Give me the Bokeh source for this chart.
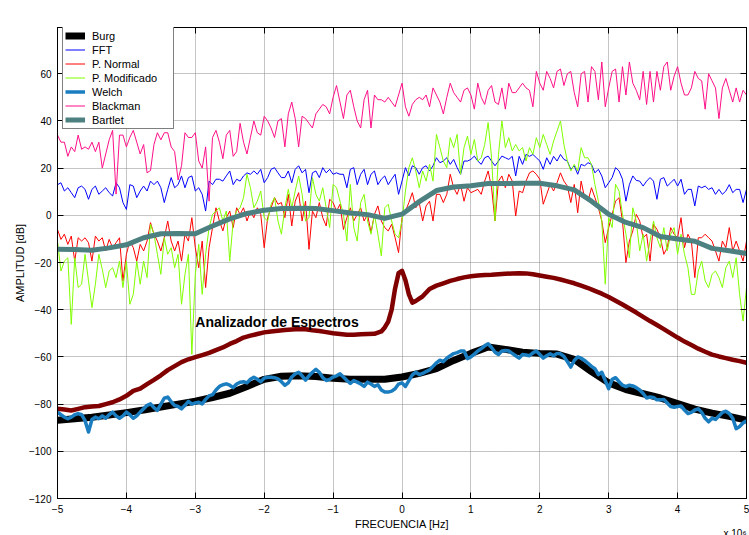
import numpy as np
from bokeh.plotting import figure
from bokeh.models import Range1d, FixedTicker, LinearAxis, Label, Legend, LegendItem, Title
from bokeh.embed import file_html
from bokeh.resources import INLINE

# ---------------------------------------------------------------- data
# frequency axis in units of 1e6 Hz
freq = np.round(np.linspace(-5, 5, 201), 2)        # fine grid (0.05)
freq_coarse = np.round(np.linspace(-5, 5, 41), 2)  # smooth estimators (0.25)

x_ticks = [-5, -4, -3, -2, -1, 0, 1, 2, 3, 4, 5]
y_ticks = [-120, -100, -80, -60, -40, -20, 0, 20, 40, 60]

fft_db = [
    13, 13.8, 10.3, 11.7, 9.6, 7.5, 11.7, 12.4, 11, 6.8, 11, 12.4, 8.9, 10.3, 11.7, 9.6, 8.2, 13.8, 11.7, 5.4,
    2.5, 13, 12.4, 7.5, 10.3, 12.4, 10.3, 14.5, 13, 14.5, 11.7, 5.4, 11, 16, 11.7, 13, 16.7, 11.7, 16, 16.7,
    10.3, 11.7, 8.9, 1.8, 14.5, 13, 15.3, 15.3, 14.5, 16.7, 18.8, 13, 15.3, 14.5, 16.7, 18, 17.4, 18.8, 17.4, 19.5,
    13.8, 16, 19.5, 20.2, 18, 16, 16, 18.8, 13.8, 19.5, 21, 18, 19.5, 9.6, 18, 18.8, 16, 20.2, 18, 19.5,
    17.4, 18, 17.4, 17.4, 11.7, 19.5, 20.2, 13, 17.4, 19.5, 13, 17.4, 18.8, 13, 15.3, 16.7, 13, 15.3, 17.4, 8.9,
    14.5, 20.2, 16.7, 21, 20.2, 17.4, 20.2, 21, 18.8, 21, 24.4, 22.3, 23, 24.4, 21.6, 23.7, 20.2, 17.4, 23, 23,
    23.7, 25.1, 23, 21.6, 24.4, 25.1, 23, 21, 23, 25.1, 24.4, 23.7, 25, 16.7, 25, 21.6, 25.8, 25, 25.8, 24.4,
    23, 19.5, 24.4, 21.6, 25, 23, 25.8, 23.7, 23, 19.5, 21, 17.4, 21.6, 21, 22.3, 21.6, 18, 19.5, 16.7, 11.7,
    13.8, 16, 20.2, 18.8, 15.3, 6, 13, 16.7, 14.8, 14.5, 12.4, 14.5, 16, 14.5, 6.8, 15.3, 16, 12.4, 13.8, 15.3,
    12.4, 15.3, 8.9, 11, 11, 4, 12.4, 11.7, 12.4, 11, 11.7, 8.9, 11, 8.9, 10.3, 13, 9.6, 11, 11, 5.4,
    11,
]

p_normal_db = [
    -6, -10.2, -8, -12.3, -8.8, -19.4, -9.5, -10.9, -9.5, -11.6, -19.4, -8.8, -10.9, -9.5, -15.1, -10.2, -13.7, -11.6, -9.5, -27.8,
    -16.5, -10.9, -13.7, -19.4, -12.3, -15.1, -10.9, -3.1, -8, -10.9, -15.1, -9.5, -2.4, -10.9, -15.1, -10.9, -19.4, -8, -10.9, -1,
    -13.7, -22.2, -10.9, -30.6, -13.7, -5.2, 3.2, -2.4, -6.6, -1, 1.8, -5.2, 3.2, 0.4, 3.2, -2.4, 1.8, -1, 3.2, 0.4,
    -13.7, -1, 3.2, 7.5, 4.7, 5.4, -1, 8.9, -4.5, 6, 9.6, -2.4, 6, -14.4, 1.8, -1, 5.4, -1, -4.5, 6.8,
    5.4, 1.8, 4.7, -6, -1, 3.2, -2.4, 0.4, 3.2, -2.4, 0.4, -7.3, 0.4, 4, -2.4, -5.2, -6.6, -3.8, -9.5, -15.8,
    -1, 1.8, 5.4, 9.6, 3.2, 5.4, -2.4, 4, 6, -2.4, 8.9, 8.9, 5.4, 8.9, 17.4, 11.7, 8.9, 13.1, 6, 11.7,
    9.6, 10.3, 11, 8.9, 14.5, 18.8, 11.7, -2.4, 14.5, 16.7, 11.7, 17.4, 14.5, -0.3, 10.3, 9.6, 14.5, 18, 18.8, 17.4,
    15.3, 4.7, 8.9, 13.1, 10.3, 13.8, 18, 14.5, 12.4, 5.4, 13.1, 1.1, 14.5, 7.5, 6, 11.7, 7.5, 3.2, -2.4, -11.6,
    -5.2, 0.4, 6, 7.5, -2.4, -20, -10.9, -6.6, 0.4, -2.4, -9.5, -8, -19.4, -3.8, -5.9, -9.5, -16.5, -13.7, -5.2, -8,
    -9.5, -1, -13.7, -8, -10.9, -26.4, -9.5, -9.5, -8, -9.5, -10.9, -15.1, -19.4, -10.9, -13.7, -5.2, -15.1, -10.9, -15.1, -19.4,
    -10.9,
]

p_modificado_db = [
    -11, -23.6, -19.4, -18, -46.2, -18, -30.6, -29.2, -16.5, -27.8, -39.1, -29.2, -16.5, -22.9, -30.6, -23.6, -22.2, -26.4, -19.4, -30.6,
    -19.4, -37.7, -33.5, -19.4, -29.2, -19.4, -26.4, -3.8, -8, -16.5, -25, -9.5, -16.5, -13.7, -22.2, -16.5, -37.7, -25, -16.5, -58.9,
    -25, -12.3, -33.5, -16.5, -5.2, 0.4, 1.8, 3.2, -2.4, 1.8, -19.4, -2.4, 1.8, 3.2, 7.5, 17.4, 11.7, 3.2, 6, 10.3,
    -1, -2.4, 4.7, 7.5, -2.4, -8, 3.2, 11, 3.2, 10.3, 16.7, 8.9, -2.4, -1, 16, 8.9, 6, 11.7, 3.2, -5.2,
    13.1, 11.7, 6, 0.4, -10.9, 13.1, -5.2, -10.9, 5.4, 8.9, -2.4, -8, 0.4, -8, -17.2, 3.2, 4.7, -2.4, -8, -9.5,
    -2.4, 10.3, 20.2, 24.4, 18.8, 11.7, 18.8, 14.5, 21.6, 14.5, 34.3, 28.7, 23, 20.2, 32.9, 28.7, 34.3, 17.4, 28.7, 33.6,
    25.8, 32.2, 23, 24.4, 30, 39.3, 24.4, -2.4, 25.8, 40, 28.7, 32.9, 27.3, 30, 27.3, 28.7, 23, 28.7, 25.8, 32.9,
    28.7, 34.3, 30, 25.8, 31.5, 35.7, 40, 30, 23, 18.8, 21.6, 18.8, 28.7, 24.4, 24.4, 21.6, 13.1, 6, -2.4, -29.2,
    -1, -5.2, 13.1, 10.3, 0.4, -8, -18, 3.2, -2.4, -15.1, -8, -19.4, -10.9, -2.4, -9.5, -13.7, -5.2, -15.1, -8, -5.2,
    -16.5, -8, -16.5, -22.2, -33.5, -33.5, -23.6, -19.4, -27.8, -30.6, -25, -23.6, -26.4, -30.6, -22.2, -19.4, -26.4, -18, -33.5, -44.8,
    -30.6,
]

welch_db = [
    -83.4, -84.5, -85.5, -86.2, -85.5, -84.5, -84, -84.5, -87, -91.8, -86.5, -85.5, -86.2, -85, -86, -84.5, -83.4, -85, -86, -85,
    -83.4, -84.5, -86, -85, -83.4, -82, -80.5, -79.9, -81.5, -82.7, -80, -77.5, -77, -79, -80.6, -81, -82, -80.5, -78.8, -80,
    -79.5, -79.2, -79.9, -78, -76.5, -76, -74, -72.5, -71.8, -71.4, -72, -73, -71.5, -70.7, -70.5, -71, -69.5, -68.6, -69.5, -70.5,
    -69, -68.6, -68.6, -68.8, -69.3, -70.5, -72, -71, -68.5, -67.2, -66.5, -68, -69.8, -68, -66.5, -65.3, -66.5, -68.8, -70, -69.5,
    -68.5, -68, -67.2, -68.5, -70, -71.2, -70, -70.7, -71.4, -72.5, -70.7, -71.5, -72.5, -71.8, -74, -74.9, -74.9, -74.5, -73.5, -71.5,
    -71, -72.5, -70, -67.6, -66.5, -67.5, -67, -66.2, -65.5, -64, -62.5, -61.4, -62, -60.5, -59.5, -58.6, -58.2, -57.5, -57.5, -60.7,
    -60, -58.8, -57.5, -56.5, -55.3, -54.4, -56, -58, -59, -57.5, -57.3, -57.5, -58.5, -59.5, -60.5, -59, -59.2, -59.5, -58.3, -57.5,
    -59, -60.5, -59.5, -58.7, -59.5, -58.5, -58.7, -59.8, -62, -64.3, -61.5, -60, -60.5, -61.5, -62.7, -64, -65, -67.5, -66.5, -70,
    -73.5, -69.5, -68.8, -70.5, -72, -72.6, -72, -72.3, -73, -74, -75.5, -77.4, -77, -77.2, -78.2, -78.2, -78, -79.5, -81, -81.3,
    -81, -80.8, -82.5, -84, -83.5, -82.5, -82, -83.5, -86, -87.5, -86, -86.5, -85, -83.5, -83, -84, -86, -90.4, -89.5, -88,
    -87,
]

blackman_db = [
    34, 31, 31, 25, 29, 27, 34, 28, 29, 28, 31, 27, 31, 20, 26, 32, 36, 9, 34, 34,
    29, 33, 36, 31, 26, 30, 18, 19, 30, 35, 32, 35, 35, 29, 27, 15, 21, 35, 33, 33,
    35, 23, 20, 29, 6, 33, 36, 31, 24, 34, 36, 25, 27, 39, 31, 26, 33, 40, 35, 34,
    42, 40, 37, 33, 40, 41, 29, 43, 48, 41, 29, 42, 41, 39, 37, 43, 45, 47, 46, 43,
    50, 55, 48, 41, 51, 53, 46, 40, 37, 49, 53, 37, 51, 49, 49, 48, 50, 48, 46, 51,
    56, 46, 42, 47, 49, 50, 49, 51, 46, 54, 51, 48, 43, 50, 56, 52, 50, 48, 53, 54,
    51, 45, 56, 50, 47, 53, 55, 48, 47, 54, 45, 56, 52, 52, 54, 56, 54, 53, 46, 61,
    56, 53, 61, 58, 54, 61, 62, 55, 60, 61, 52, 46, 60, 61, 48, 63, 61, 49, 65, 46,
    54, 61, 62, 48, 63, 51, 65, 56, 53, 49, 61, 47, 61, 48, 61, 53, 63, 65, 53, 59,
    63, 56, 51, 51, 54, 61, 58, 57, 45, 60, 57, 54, 41, 54, 58, 53, 48, 54, 48, 53,
    51,
]

burg_db = [
    -86.8, -86.2, -85.6, -84.6, -83.6, -82.5, -81.2, -80, -78.8, -77.2, -75.4, -72.5, -69.5, -68.2,
    -68, -68.3, -69, -69.5, -69.5, -69.5, -68.5, -67, -65, -61.5, -58.5, -55.8, -56.8, -58,
    -58.5, -58.8, -61, -66.2, -71, -73.8, -75.6, -77.4, -79.8, -82.1, -83.8, -85.2, -86.8,
]

bartlet_db = [
    -14.4, -14.5, -14.8, -13.8, -12.5, -9.5, -7.8, -7.7, -7.8, -4.5, -1.5, 0.8, 2.2, 2.9,
    3, 2.9, 2, 1, 0.3, -1.3, 0.5, 5.8, 10.5, 12, 12.5, 13.5, 13.5, 13.6,
    13.6, 12.5, 10.8, 6, 0.5, -3, -5.2, -9, -10, -11, -14, -15, -16.2,
]

# spectrum analyser trace: 0.1 grid, refined around the carrier at 0 Hz
analizador_freq = np.round(np.concatenate([
    np.linspace(-5, -0.3, 48),
    np.linspace(-0.25, 0.3, 12),
    np.linspace(0.4, 5, 47),
]), 2)
analizador_db = [
    -82, -82.3, -82.7, -82, -81.3, -81, -80.8, -80, -79.2, -78,
    -76.5, -74.4, -73.4, -71.5, -69.7, -67.8, -65.6, -63.9, -62.2, -61,
    -60.1, -59.2, -58.3, -57.1, -56, -54.5, -53.3, -51.8, -51, -50.3,
    -49.6, -49.2, -48.9, -48.6, -48.4, -48.2, -48.3, -48.7, -49, -49.5,
    -50, -50.3, -50.6, -50.6, -50.4, -50.3, -50.2, -49.2,
    -47.5, -45, -40, -31, -24.5, -23.5, -27.5, -33.5, -37, -36.3, -35.3, -34.3,
    -31.2, -29.8, -28.8, -27.8, -27, -26.3,
    -25.8, -25.5, -25.3, -25.2, -25, -24.8, -24.6, -24.5, -24.6, -25,
    -25.5, -26, -26.5, -27.2, -28, -28.8, -29.8, -30.8, -32, -33.2,
    -34.6, -36.2, -37.8, -39.5, -41.2, -43, -44.8, -46.5, -48.2, -50,
    -51.8, -53.5, -55, -56.5, -57.8, -59, -59.8, -60.5, -61.2, -61.8,
    -62.5,
]

FONT = "Liberation Sans"

# ---------------------------------------------------------------- figure
p = figure(width=749, height=535,
           x_range=Range1d(-5, 5), y_range=Range1d(-120, 79.6),
           output_backend="svg", toolbar_location=None,
           min_border_left=57, min_border_right=3,
           min_border_top=27, min_border_bottom=37)
p.background_fill_color = "white"
p.border_fill_color = "white"
p.outline_line_color = "black"
p.outline_line_width = 1

for ax, ticks in ((p.xaxis, x_ticks), (p.yaxis, y_ticks)):
    ax.ticker = FixedTicker(ticks=ticks)
    ax.major_tick_in = 6
    ax.major_tick_out = 0
    ax.minor_tick_line_color = None
    ax.axis_line_color = "black"
    ax.major_tick_line_color = "black"
    ax.major_label_text_font = FONT
    ax.major_label_text_font_size = "10px"
    ax.major_label_text_color = "black"
    ax.axis_label_text_font = FONT
    ax.axis_label_text_font_size = "11px"
    ax.axis_label_text_font_style = "normal"
    ax.axis_label_text_color = "black"

p.yaxis.axis_label = "AMPLITUD [dB]"
p.xaxis.major_label_standoff = 6
p.yaxis.major_label_standoff = 6
p.yaxis.axis_label_standoff = 0

# mirrored tick marks on the top and right edges of the box (no labels)
mirror = dict(major_label_text_font_size="1px", major_label_text_color=None,
              major_tick_in=6, major_tick_out=0, minor_tick_line_color=None,
              major_label_standoff=0, axis_line_color="black")
p.add_layout(LinearAxis(ticker=FixedTicker(ticks=x_ticks), **mirror), "above")
p.add_layout(LinearAxis(ticker=FixedTicker(ticks=y_ticks), **mirror), "right")

p.grid.grid_line_color = "#8a8a8a"
p.grid.grid_line_dash = "1 1"
p.xgrid.ticker = FixedTicker(ticks=x_ticks)
p.ygrid.ticker = FixedTicker(ticks=y_ticks)

# ---------------------------------------------------------------- x-axis caption rows (below the tick labels)
x_caption = Title(text="FRECUENCIA [Hz]", align="center", text_font=FONT,
                  text_font_size="11px", text_font_style="normal", text_color="black")
x_scale_note = Title(text="x 10\u2076", align="right", text_font=FONT,
                     text_font_size="10px", text_font_style="normal", text_color="black")
for t, s in ((x_caption, 1), (x_scale_note, -9)):
    try:
        t.standoff = s
    except ValueError:
        t.standoff = 0
p.add_layout(x_caption, "below")
p.add_layout(x_scale_note, "below")

# ---------------------------------------------------------------- traces
common = dict(line_join="round")
r_ana = p.line(analizador_freq, analizador_db, line_color="#800000", line_width=4.5, **common)
r_burg = p.line(freq_coarse, burg_db, line_color="black", line_width=7, **common)
r_fft = p.line(freq, fft_db, line_color="#0000ff", line_width=1, **common)
r_norm = p.line(freq, p_normal_db, line_color="#ff0000", line_width=1, **common)
r_mod = p.line(freq, p_modificado_db, line_color="#80ff00", line_width=1, **common)
r_welch = p.line(freq, welch_db, line_color="#1a7dc0", line_width=3.5, **common)
r_black = p.line(freq, blackman_db, line_color="#ff0f87", line_width=1, **common)
r_bart = p.line(freq_coarse, bartlet_db, line_color="#4d8080", line_width=5, **common)

legend = Legend(items=[
    LegendItem(label="Burg", renderers=[r_burg]),
    LegendItem(label="FFT", renderers=[r_fft]),
    LegendItem(label="P. Normal", renderers=[r_norm]),
    LegendItem(label="P. Modificado", renderers=[r_mod]),
    LegendItem(label="Welch", renderers=[r_welch]),
    LegendItem(label="Blackman", renderers=[r_black]),
    LegendItem(label="Bartlet", renderers=[r_bart]),
], location=(5, 369))
legend.padding = 2
legend.spacing = 1
legend.margin = 0
legend.label_height = 13
legend.glyph_height = 13
legend.glyph_width = 20
legend.label_width = 79
legend.label_standoff = 7
legend.label_text_font = FONT
legend.label_text_font_size = "11px"
legend.label_text_color = "black"
legend.border_line_color = "black"
legend.border_line_width = 1
legend.background_fill_color = "white"
legend.background_fill_alpha = 1
p.add_layout(legend)

# ---------------------------------------------------------------- texts
p.add_layout(Label(x=-3, y=-45, text="Analizador de Espectros",
                   text_font=FONT, text_font_style="bold", text_font_size="14px",
                   text_align="left", text_baseline="middle", text_color="black"))
p.add_layout(Label(x=0, y=83.7,
                   text="DENSIDADES ESPECTRALES DE POTENCIA: COMPARACIÓN DE MÉTODOS",
                   text_font=FONT, text_font_size="11px", text_align="center",
                   text_baseline="alphabetic", text_color="black"))

open("out.html", "w").write(file_html(p, INLINE))
